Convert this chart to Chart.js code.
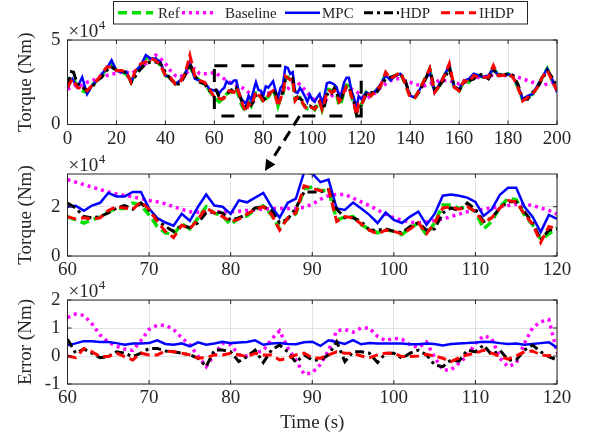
<!DOCTYPE html>
<html>
<head>
<meta charset="utf-8">
<title>Torque tracking</title>
<script src="https://cdn.jsdelivr.net/npm/chart.js@4.4.1/dist/chart.umd.min.js"></script>
<style>
  html, body { margin: 0; padding: 0; background: #ffffff; }
  #figure { position: relative; width: 589px; height: 437px; overflow: hidden; }
  #figure canvas { position: absolute; left: 0; top: 0; }
</style>
</head>
<body>
<div id="figure">
  <canvas id="overviewChart" width="589" height="437"></canvas>
  <canvas id="zoomChart" width="589" height="437"></canvas>
  <canvas id="errorChart" width="589" height="437"></canvas>
</div>
<script>
// Torque values are in units of 1e4 Nm (the axes carry the x10^4 factor)

// 0-58 s, read every 2 s from the overview plot
const timeEarly = [0, 2, 4, 6, 8, 10, 12, 14, 16, 18, 20, 22, 24, 26, 28, 30, 32, 34, 36, 38, 40, 42, 44, 46, 48, 50, 52, 54, 56, 58];
const refEarly      = [2.2, 2.8, 2.3, 2.0, 1.9, 2.3, 2.6, 2.9, 3.3, 3.6, 3.2, 3.1, 3.0, 2.5, 3.1, 3.5, 4.0, 3.8, 3.9, 3.5, 2.9, 2.8, 2.4, 2.5, 3.0, 3.4, 2.9, 2.6, 2.4, 2.0];
const baselineEarly = [2.1, 2.2, 2.4, 2.3, 2.5, 2.6, 2.7, 2.8, 2.9, 3.0, 3.0, 3.1, 3.1, 3.0, 3.2, 3.4, 3.6, 3.9, 4.1, 3.9, 3.6, 3.2, 2.9, 2.8, 3.0, 3.2, 3.3, 3.0, 3.0, 3.0];
const mpcEarly      = [2.2, 2.7, 2.2, 2.8, 1.8, 2.3, 2.6, 3.0, 3.3, 3.8, 3.2, 3.1, 3.1, 2.5, 3.2, 3.5, 4.1, 3.9, 3.9, 3.7, 2.9, 2.8, 2.4, 2.6, 3.0, 3.7, 2.7, 2.6, 2.5, 2.1];
const hdpEarly      = [2.3, 3.3, 2.4, 2.2, 2.0, 2.2, 2.6, 2.8, 3.2, 3.4, 3.2, 3.1, 3.1, 2.5, 2.9, 3.3, 3.6, 3.7, 3.7, 3.6, 3.1, 2.7, 2.4, 2.4, 2.9, 3.6, 2.9, 2.5, 2.4, 2.0];
const ihdpEarly     = [2.2, 2.7, 2.2, 2.1, 2.0, 2.3, 2.6, 3.0, 3.4, 3.4, 3.2, 3.2, 3.1, 2.5, 3.3, 3.6, 3.7, 3.9, 3.8, 3.5, 2.9, 2.8, 2.4, 2.5, 3.0, 4.1, 2.9, 2.6, 2.5, 2.1];

// 60-120 s, read every 1 s from the zoomed plot
const timeMid = [60, 61, 62, 63, 64, 65, 66, 67, 68, 69, 70, 71, 72, 73, 74, 75, 76, 77, 78, 79, 80, 81, 82, 83, 84, 85, 86, 87, 88, 89, 90, 91, 92, 93, 94, 95, 96, 97, 98, 99, 100, 101, 102, 103, 104, 105, 106, 107, 108, 109, 110, 111, 112, 113, 114, 115, 116, 117, 118, 119, 120];
const refMid = [1.6, 1.47, 1.34, 1.47, 1.58, 1.8, 1.93, 1.93, 2.15, 2.07,
  1.67, 1.2, 0.94, 0.87, 1.31, 1.1, 1.54, 2.0, 1.74, 1.63,
  1.27, 1.54, 1.63, 1.87, 2.03, 1.67, 1.1, 1.54, 1.71, 2.73,
  2.8, 2.66, 2.66, 1.47, 1.58, 1.6, 1.27, 1.1, 0.94, 1.07,
  1.0, 0.87, 1.14, 1.34, 0.87, 1.34, 2.07, 2.07, 1.93, 2.0,
  1.8, 1.1, 1.4, 2.0, 2.33, 2.29, 1.67, 1.27, 0.68, 0.9, 1.14];
const baselineMid = [3.1, 3.0, 2.9, 2.8, 2.7, 2.6, 2.52, 2.46, 2.4, 2.33,
  2.25, 2.2, 2.12, 2.0, 1.9, 1.8, 1.78, 1.78, 1.78, 1.8,
  1.8, 1.82, 1.85, 1.87, 1.9, 1.92, 1.93, 1.93, 1.93, 1.98,
  2.1, 2.3, 2.45, 2.5, 2.5, 2.35, 2.2, 2.05, 1.87, 1.7,
  1.55, 1.45, 1.38, 1.33, 1.38, 1.45, 1.5, 1.6, 1.7, 1.8,
  1.85, 1.9, 1.95, 2.0, 2.05, 2.1, 2.1, 2.05, 1.95, 1.85, 1.7];
const mpcMid = [2.0, 2.04, 1.84, 2.05, 2.16, 2.56, 2.42, 2.42, 2.6, 2.6,
  1.93, 1.54, 1.36, 1.23, 1.71, 1.43, 2.0, 2.5, 2.05, 2.0,
  1.71, 2.26, 2.18, 2.37, 2.56, 2.0, 1.56, 2.16, 2.33, 3.4,
  3.35, 3.0, 3.1, 1.93, 1.87, 2.17, 1.93, 1.67, 1.34, 1.76,
  1.47, 1.34, 1.6, 1.8, 1.27, 1.71, 2.45, 2.5, 2.45, 2.37,
  2.2, 1.63, 1.89, 2.49, 2.77, 2.77, 2.0, 1.6, 0.97, 1.67, 1.51];
const hdpMid = [2.15, 1.95, 1.6, 1.55, 1.6, 1.75, 1.95, 2.05, 1.9, 2.15,
  1.85, 1.45, 1.2, 1.0, 1.25, 1.15, 1.35, 1.75, 1.8, 1.75,
  1.45, 1.55, 1.7, 1.95, 2.0, 1.85, 1.35, 1.5, 1.95, 2.6,
  2.6, 2.6, 2.7, 1.9, 1.55, 1.55, 1.4, 1.05, 1.05, 1.1,
  1.0, 0.95, 1.2, 1.35, 1.05, 1.1, 1.75, 1.95, 1.85, 2.15,
  1.9, 1.4, 1.55, 1.95, 2.2, 2.2, 1.8, 1.35, 0.65, 1.05, 1.1];
const ihdpMid = [1.6, 1.5, 1.55, 1.5, 1.55, 1.85, 2.0, 1.95, 1.9, 2.2,
  1.9, 1.4, 1.0, 0.75, 1.25, 1.1, 1.5, 1.95, 1.75, 1.6,
  1.4, 1.5, 1.7, 1.9, 2.0, 1.7, 1.05, 1.55, 1.75, 2.85,
  2.75, 2.65, 2.7, 1.4, 1.6, 1.55, 1.3, 1.05, 0.9, 1.05,
  1.0, 0.9, 1.1, 1.35, 0.9, 1.35, 1.95, 2.0, 1.9, 2.0,
  1.8, 1.35, 1.55, 1.95, 2.25, 2.2, 1.7, 1.3, 0.55, 1.2, 1.1];

// 122-200 s, read every 2 s from the overview plot
const timeLate = [122, 124, 126, 128, 130, 132, 134, 136, 138, 140, 142, 144, 146, 148, 150, 152, 154, 156, 158, 160, 162, 164, 166, 168, 170, 172, 174, 176, 178, 180, 182, 184, 186, 188, 190, 192, 194, 196, 198, 200];
const refLate      = [1.9, 1.7, 2.0, 2.3, 3.0, 2.7, 2.9, 3.05, 2.4, 1.65, 1.6, 2.1, 2.7, 3.25, 1.9, 2.3, 2.9, 3.45, 2.2, 2.0, 2.6, 2.5, 2.9, 2.9, 2.8, 2.8, 3.4, 2.9, 2.9, 3.0, 2.8, 2.2, 1.45, 1.65, 1.8, 2.2, 2.8, 3.3, 2.6, 2.0];
const baselineLate = [1.5, 1.7, 1.9, 2.2, 2.4, 2.6, 2.7, 2.7, 2.6, 2.5, 2.4, 2.3, 2.3, 2.4, 2.5, 2.6, 2.6, 2.6, 2.5, 2.4, 2.5, 2.6, 2.7, 2.8, 2.8, 2.9, 2.9, 2.9, 2.9, 2.9, 2.9, 2.8, 2.7, 2.6, 2.5, 2.4, 2.3, 2.4, 2.5, 2.3];
const mpcLate      = [1.9, 1.8, 2.0, 2.4, 2.9, 2.6, 2.9, 3.0, 2.5, 1.7, 1.6, 2.1, 2.6, 3.1, 1.9, 2.4, 2.9, 3.5, 2.2, 2.1, 2.6, 2.7, 3.0, 2.9, 2.8, 2.9, 3.3, 2.9, 2.9, 3.0, 2.8, 2.3, 1.5, 1.7, 1.8, 2.3, 2.8, 3.3, 2.7, 1.9];
const hdpLate      = [1.8, 1.9, 1.8, 2.3, 2.7, 2.8, 2.9, 3.0, 2.6, 1.7, 1.6, 2.0, 2.6, 3.3, 2.1, 2.3, 2.7, 3.3, 2.3, 2.0, 2.5, 2.6, 2.7, 3.0, 2.9, 2.7, 3.2, 3.0, 2.9, 3.0, 2.9, 2.4, 1.5, 1.5, 1.9, 2.2, 2.7, 3.2, 2.8, 2.2];
const ihdpLate     = [1.9, 1.7, 2.0, 2.3, 3.1, 2.7, 2.9, 3.1, 2.4, 1.6, 1.6, 2.1, 2.7, 3.3, 1.9, 2.3, 2.9, 3.6, 2.2, 2.0, 2.6, 2.5, 2.9, 2.8, 2.8, 2.8, 3.5, 2.9, 2.9, 3.0, 2.8, 2.2, 1.4, 1.6, 1.8, 2.2, 2.8, 3.2, 2.6, 2.0];

// tracking error over 60-120 s (1e4 Nm)
const baselineErr = [1.37, 1.5, 1.45, 1.15, 0.75, 0.5, 0.35, 0.25, 0.2, 0.55,
  0.95, 1.1, 1.1, 0.95, 0.65, 0.4, 0.0, -0.38, 0.05, 0.45,
  0.4, 0.05, 0.0, 0.1, 0.2, 0.6, 0.9, 0.3, -0.15, -0.65,
  -0.6, -0.3, 0.2, 0.9, 0.95, 0.85, 1.0, 1.0, 0.7, 0.55,
  0.63, 0.6, 0.4, 0.3, 0.5, -0.05, -0.5, -0.5, -0.25, 0.0,
  0.45, 0.72, 0.63, -0.08, -0.38, -0.26, 0.45, 1.0, 1.22, 1.3, 0.15];
const mpcErr = [0.38, 0.45, 0.53, 0.53, 0.5, 0.5, 0.46, 0.4, 0.45, 0.45,
  0.46, 0.56, 0.43, 0.4, 0.45, 0.34, 0.49, 0.4, 0.45, 0.51,
  0.46, 0.48, 0.5, 0.56, 0.4, 0.45, 0.46, 0.43, 0.42, 0.49,
  0.51, 0.36, 0.56, 0.5, 0.43, 0.57, 0.42, 0.46, 0.45, 0.45,
  0.45, 0.45, 0.42, 0.42, 0.45, 0.43, 0.38, 0.43, 0.45, 0.46,
  0.48, 0.51, 0.5, 0.46, 0.43, 0.45, 0.4, 0.43, 0.46, 0.49, 0.3];
const hdpErr = [0.6, 0.1, 0.25, 0.1, -0.06, -0.02, 0.15, 0.1, -0.02, 0.1,
  0.27, 0.27, 0.18, 0.15, 0.1, 0.04, -0.08, -0.38, 0.21, 0.21,
  0.15, -0.2, -0.02, 0.21, -0.23, 0.21, 0.39, 0.15, -0.23, 0.04,
  -0.14, -0.14, 0.04, 0.51, -0.2, 0.15, 0.15, 0.1, -0.23, 0.1,
  0.1, -0.08, 0.1, 0.21, 0.04, -0.32, -0.38, -0.14, -0.18, 0.21,
  0.15, 0.39, 0.04, 0.21, -0.14, -0.14, 0.21, 0.39, 0.15, -0.02, -0.14];
const ihdpErr = [0.0, -0.06, 0.27, 0.15, -0.02, -0.02, 0.1, -0.02, -0.14, 0.1,
  0.04, 0.04, 0.18, 0.15, 0.1, 0.04, -0.08, -0.06, 0.04, 0.04,
  0.1, 0.04, -0.02, 0.1, 0.04, 0.04, -0.14, -0.08, 0.04, 0.1,
  -0.06, -0.08, 0.04, 0.15, 0.1, 0.1, 0.0, -0.06, 0.04, 0.1,
  0.1, -0.02, -0.02, 0.0, 0.06, 0.0, -0.08, -0.2, -0.06, 0.04,
  0.1, 0.21, 0.1, -0.02, -0.11, 0.0, 0.15, 0.18, 0.04, 0.0, 0.1];

// zoom window marked on the overview, and the arrow pointing to the zoomed plot
const zoomWindow = { t0: 60, t1: 120, low: 0.5, high: 3.48 };
const arrowFrom = { t: 94.8, v: 0.5 };
const arrowTo = { t: 84.2 };

const FONT = "'Liberation Serif', 'Times New Roman', Times, serif";
const INK = '#262626';
const GRID = '#e2e2e2';
const PAGE_W = 589, PAGE_H = 437;
const PLOT_LEFT = 67.5, PLOT_RIGHT = 557;

Chart.defaults.font.family = FONT;
Chart.defaults.color = INK;

const seriesStyle = {
  Ref:      { color: '#00e000', dash: [9, 5], width: 3.5, order: 5 },
  Baseline: { color: '#ff00ff', dash: [3, 4], width: 3.5, order: 4 },
  MPC:      { color: '#0000ff', dash: [], width: 2.5, order: 3 },
  HDP:      { color: '#000000', dash: [9, 4, 3, 4], width: 3, order: 2 },
  IHDP:     { color: '#ff0000', dash: [9, 5], width: 3, order: 1 }
};

function points(times, values) {
  return times.map((t, i) => ({ x: t, y: values[i] }));
}

function lineSet(name, data) {
  const s = seriesStyle[name];
  return {
    label: name,
    data: data,
    order: s.order,
    borderColor: s.color,
    borderWidth: s.width,
    borderDash: s.dash,
    borderCapStyle: 'butt',
    borderJoinStyle: 'miter',
    pointRadius: 0,
    fill: false,
    tension: 0
  };
}

function timeAxis(min, max, step, height, withTitle) {
  return {
    type: 'linear', min: min, max: max,
    ticks: { stepSize: step, padding: 5, font: { size: 19, lineHeight: 1 }, color: INK, maxRotation: 0, autoSkip: false },
    grid: { color: GRID, drawTicks: false },
    border: { display: false },
    title: withTitle
      ? { display: true, text: 'Time (s)', font: { size: 19, lineHeight: 1.2 }, color: INK, padding: { top: 0, bottom: 2.6 } }
      : { display: false },
    afterFit: scale => { scale.height = height; }
  };
}

function valueAxis(min, max, step, title) {
  return {
    type: 'linear', min: min, max: max,
    ticks: { stepSize: step, padding: 7, includeBounds: false, font: { size: 19, lineHeight: 1 }, color: INK },
    grid: { color: GRID, drawTicks: false },
    border: { display: false },
    title: { display: true, text: title, font: { size: 19, lineHeight: 1.2 }, color: INK, padding: { top: 15, bottom: 0 } },
    afterFit: scale => { scale.width = PLOT_LEFT; }
  };
}

function chartOptions(area, xAxis, yAxis) {
  return {
    responsive: false,
    animation: false,
    events: [],
    layout: { padding: { left: 0, right: PAGE_W - PLOT_RIGHT, top: area.top, bottom: PAGE_H - area.bottom - area.axisHeight } },
    plugins: { legend: { display: false }, tooltip: { enabled: false } },
    scales: { x: xAxis, y: yAxis }
  };
}

// box around the axes, inward tick marks and the x10^4 label
const framePlugin = {
  id: 'frame',
  afterDatasetsDraw(chart) {
    const { ctx, chartArea: a, scales: { x, y } } = chart;
    ctx.save();
    ctx.strokeStyle = INK;
    ctx.lineWidth = 1;
    ctx.setLineDash([]);
    ctx.beginPath();
    x.ticks.forEach(t => {
      const px = x.getPixelForValue(t.value);
      ctx.moveTo(px, a.bottom); ctx.lineTo(px, a.bottom - 4);
      ctx.moveTo(px, a.top); ctx.lineTo(px, a.top + 4);
    });
    y.ticks.forEach(t => {
      const py = y.getPixelForValue(t.value);
      ctx.moveTo(a.left, py); ctx.lineTo(a.left + 4, py);
      ctx.moveTo(a.right, py); ctx.lineTo(a.right - 4, py);
    });
    ctx.stroke();
    ctx.strokeRect(a.left, a.top, a.right - a.left, a.bottom - a.top);

    ctx.fillStyle = INK;
    ctx.textBaseline = 'alphabetic';
    ctx.textAlign = 'left';
    ctx.font = '19px ' + FONT;
    ctx.fillText('\u00d710', a.left + 1, a.top - 3);
    const w = ctx.measureText('\u00d710').width;
    ctx.font = '13px ' + FONT;
    ctx.fillText('4', a.left + 1 + w + 0.5, a.top - 11.5);
    ctx.restore();
  }
};

const legendNames = ['Ref', 'Baseline', 'MPC', 'HDP', 'IHDP'];
const legendBox = { x: 113.5, y: 1.5, w: 414, h: 22.5 };
const legendLineX = [118, 182, 285, 364, 441];
const legendTextX = [158, 225, 322, 400, 479];

const legendPlugin = {
  id: 'boxLegend',
  afterDraw(chart) {
    const ctx = chart.ctx;
    ctx.save();
    ctx.fillStyle = '#ffffff';
    ctx.fillRect(legendBox.x, legendBox.y, legendBox.w, legendBox.h);
    ctx.strokeStyle = INK;
    ctx.lineWidth = 1;
    ctx.strokeRect(legendBox.x, legendBox.y, legendBox.w, legendBox.h);
    const midY = legendBox.y + legendBox.h / 2;
    legendNames.forEach((name, i) => {
      const s = seriesStyle[name];
      ctx.strokeStyle = s.color;
      ctx.lineWidth = s.width;
      ctx.lineCap = 'butt';
      ctx.setLineDash(s.dash);
      ctx.beginPath();
      ctx.moveTo(legendLineX[i], midY);
      ctx.lineTo(legendLineX[i] + 35, midY);
      ctx.stroke();
      ctx.setLineDash([]);
      ctx.fillStyle = INK;
      ctx.font = '15px ' + FONT;
      ctx.textBaseline = 'middle';
      ctx.fillText(name, legendTextX[i], midY + 1);
    });
    ctx.restore();
  }
};

// dashed rectangle marking the zoomed interval
const zoomBoxPlugin = {
  id: 'zoomBox',
  afterDatasetsDraw(chart) {
    const { ctx, scales: { x, y } } = chart;
    const x0 = x.getPixelForValue(zoomWindow.t0), x1 = x.getPixelForValue(zoomWindow.t1);
    const yLow = y.getPixelForValue(zoomWindow.low), yHigh = y.getPixelForValue(zoomWindow.high);
    ctx.save();
    ctx.strokeStyle = '#000000';
    ctx.lineWidth = 3;
    ctx.setLineDash([13, 14]);
    ctx.strokeRect(x0, yHigh, x1 - x0, yLow - yHigh);
    ctx.restore();
  }
};

let overviewChart = null;

// dashed arrow from the rectangle down to the zoomed plot
const arrowPlugin = {
  id: 'zoomArrow',
  afterDraw(chart) {
    if (!overviewChart) return;
    const ov = overviewChart.scales;
    const sx = ov.x.getPixelForValue(arrowFrom.t), sy = ov.y.getPixelForValue(arrowFrom.v);
    const ex = chart.scales.x.getPixelForValue(arrowTo.t), ey = chart.chartArea.top - 3;
    const len = Math.hypot(ex - sx, ey - sy);
    const ux = (ex - sx) / len, uy = (ey - sy) / len;
    const head = 11, half = 5.5;
    const bx = ex - ux * head, by = ey - uy * head;
    const ctx = chart.ctx;
    ctx.save();
    ctx.strokeStyle = '#000000';
    ctx.fillStyle = '#000000';
    ctx.lineWidth = 3;
    ctx.setLineDash([11, 7]);
    ctx.beginPath();
    ctx.moveTo(sx, sy);
    ctx.lineTo(bx, by);
    ctx.stroke();
    ctx.setLineDash([]);
    ctx.beginPath();
    ctx.moveTo(ex, ey);
    ctx.lineTo(bx - uy * half, by + ux * half);
    ctx.lineTo(bx + uy * half, by - ux * half);
    ctx.closePath();
    ctx.fill();
    ctx.restore();
  }
};

function fullSeries(early, mid, late) {
  return [...points(timeEarly, early), ...points(timeMid, mid), ...points(timeLate, late)];
}

overviewChart = new Chart(document.getElementById('overviewChart'), {
  type: 'line',
  data: {
    datasets: [
      lineSet('Ref', fullSeries(refEarly, refMid, refLate)),
      lineSet('Baseline', fullSeries(baselineEarly, baselineMid, baselineLate)),
      lineSet('MPC', fullSeries(mpcEarly, mpcMid, mpcLate)),
      lineSet('HDP', fullSeries(hdpEarly, hdpMid, hdpLate)),
      lineSet('IHDP', fullSeries(ihdpEarly, ihdpMid, ihdpLate))
    ]
  },
  options: chartOptions({ top: 40, bottom: 124.5, axisHeight: 28 },
    timeAxis(0, 200, 20, 28, false),
    valueAxis(0, 5, 5, 'Torque (Nm)')),
  plugins: [zoomBoxPlugin, framePlugin, legendPlugin]
});

const zoomChart = new Chart(document.getElementById('zoomChart'), {
  type: 'line',
  data: {
    datasets: [
      lineSet('Ref', points(timeMid, refMid)),
      lineSet('Baseline', points(timeMid, baselineMid)),
      lineSet('MPC', points(timeMid, mpcMid)),
      lineSet('HDP', points(timeMid, hdpMid)),
      lineSet('IHDP', points(timeMid, ihdpMid))
    ]
  },
  options: chartOptions({ top: 174, bottom: 256, axisHeight: 28 },
    timeAxis(60, 120, 10, 28, false),
    valueAxis(0, 3.33, 2, 'Torque (Nm)')),
  plugins: [framePlugin, arrowPlugin]
});

const errorChart = new Chart(document.getElementById('errorChart'), {
  type: 'line',
  data: {
    datasets: [
      lineSet('Baseline', points(timeMid, baselineErr)),
      lineSet('MPC', points(timeMid, mpcErr)),
      lineSet('HDP', points(timeMid, hdpErr)),
      lineSet('IHDP', points(timeMid, ihdpErr))
    ]
  },
  options: chartOptions({ top: 300, bottom: 384, axisHeight: 53 },
    timeAxis(60, 120, 10, 53, true),
    valueAxis(-1, 2, 1, 'Error (Nm)')),
  plugins: [framePlugin]
});
</script>
</body>
</html>
